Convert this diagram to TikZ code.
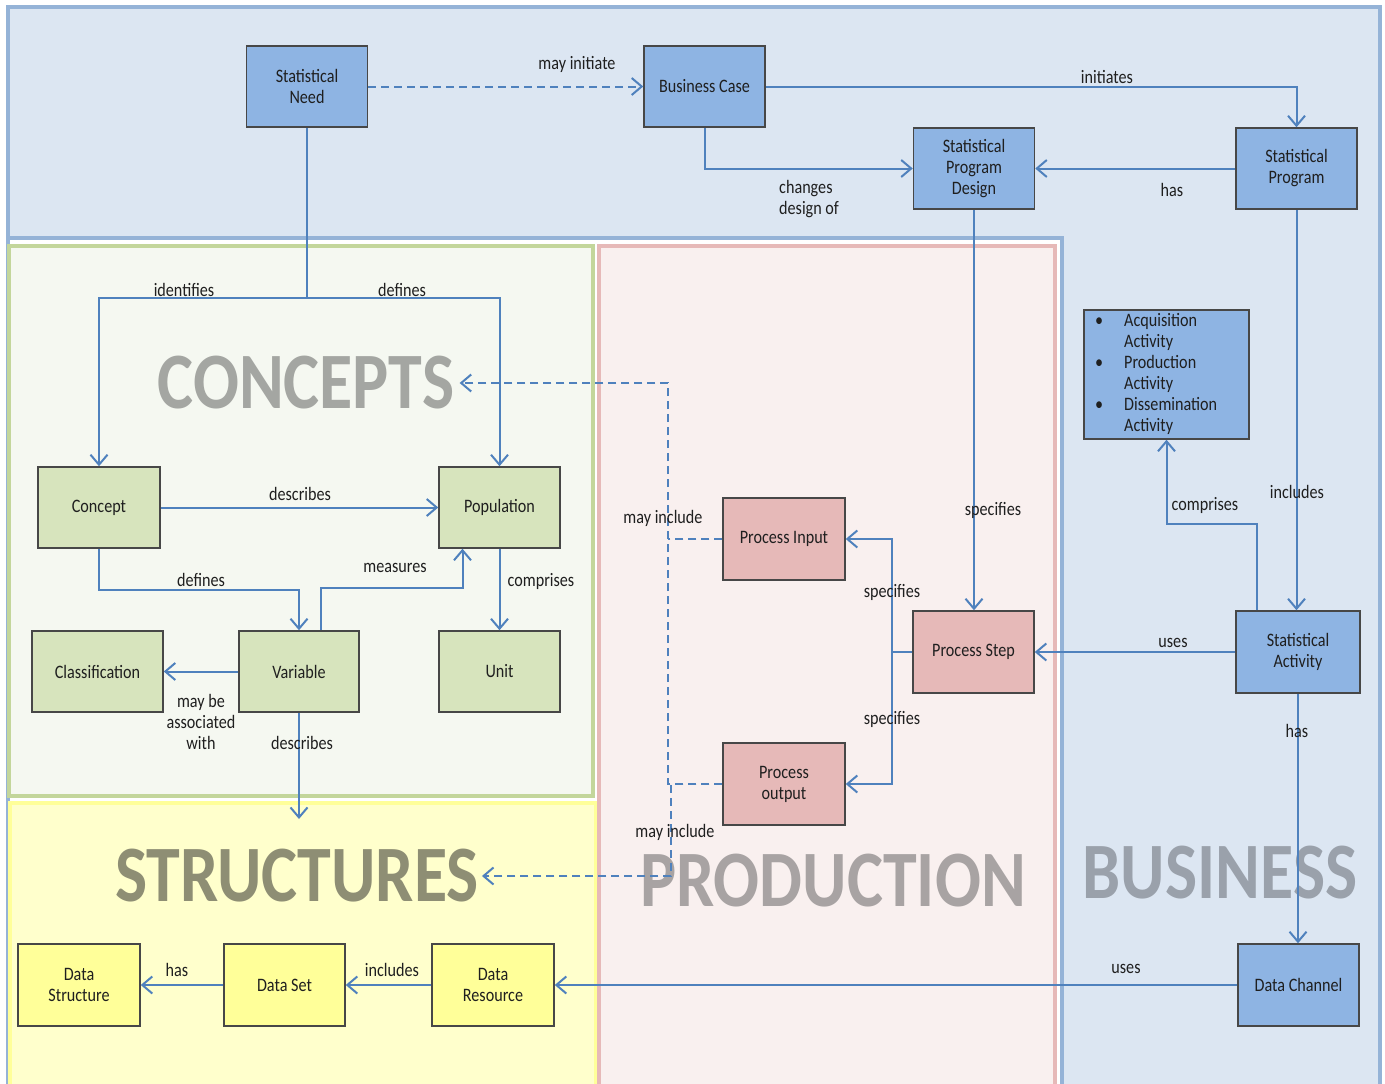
\documentclass[tikz,border=0pt]{standalone}
\usepackage{fontspec}
\setmainfont{Carlito}[FakeStretch=0.85]
\usetikzlibrary{arrows.meta}
\definecolor{bizfill}{HTML}{DCE6F2}
\definecolor{bizline}{HTML}{95B3D7}
\definecolor{confill}{HTML}{F5F8F1}
\definecolor{conline}{HTML}{C3D69B}
\definecolor{profill}{HTML}{F9F0EF}
\definecolor{proline}{HTML}{E6B9B8}
\definecolor{strfill}{HTML}{FFFFCC}
\definecolor{strline}{HTML}{FFFF99}
\definecolor{bnode}{HTML}{8EB4E3}
\definecolor{gnode}{HTML}{D7E4BD}
\definecolor{pnode}{HTML}{E6B9B8}
\definecolor{ynode}{HTML}{FFFF99}
\definecolor{connc}{HTML}{4F81BD}
\definecolor{txt}{HTML}{1F1F1F}
\definecolor{wconc}{HTML}{A4A6A2}
\definecolor{wstruc}{HTML}{8E8E74}
\definecolor{wprod}{HTML}{A8A3A3}
\definecolor{wbiz}{HTML}{9AA1AB}
\begin{document}
\begin{tikzpicture}[x=1pt,y=-1pt,
  nodebox/.style={draw=black!72, line width=1.5pt, minimum width=121pt, minimum height=81pt,
    inner sep=1pt, align=center, text=txt, font=\fontsize{19}{21}\selectfont},
  bbox/.style={nodebox, fill=bnode},
  gbox/.style={nodebox, fill=gnode},
  pbox/.style={nodebox, fill=pnode},
  ybox/.style={nodebox, fill=ynode},
  lbl/.style={font=\fontsize{19}{21}\selectfont, inner sep=0pt, align=center, text=txt},
  bigword/.style={font=\fontsize{80}{80}\selectfont\bfseries, inner sep=0pt},
  arrowlink/.style={draw=connc, line width=2pt, -{Straight Barb[length=10pt,width=17pt]}},
  plainlink/.style={draw=connc, line width=2pt},
  dashlink/.style={plainlink, dash pattern=on 8pt off 5pt},
  dasharrow/.style={arrowlink, dash pattern=on 8pt off 5pt},
  region/.style={line width=3.5pt},
]
\useasboundingbox (0,0) rectangle (1385,1084);
\fill[white] (0,0) rectangle (1385,1084);
% regions
\draw[region, fill=bizfill, draw=bizline] (8,7) rectangle (1380,1095);
\draw[region, fill=white, draw=bizline] (8,238) rectangle (1062,1095);
\draw[region, fill=confill, draw=conline] (9,246) rectangle (593,796);
\draw[region, fill=strfill, draw=strline] (10,803) rectangle (596,1095);
\draw[region, fill=profill, draw=proline] (599,246) rectangle (1055,1095);
% big words
\node[bigword, text=wconc] (concepts) at (306,383) {CONCEPTS};
\node[bigword, text=wstruc] (structures) at (297,876) {STRUCTURES};
\node[bigword, text=wprod] (production) at (833,881) {PRODUCTION};
\node[bigword, text=wbiz] (business) at (1220,873) {BUSINESS};
% nodes
\node[bbox] (sneed) at (307,86.5) {Statistical\\Need};
\node[bbox] (bcase) at (704.5,86.5) {Business Case};
\node[bbox] (spd) at (974,168.5) {Statistical\\Program\\Design};
\node[bbox] (sprog) at (1296.5,168.5) {Statistical\\Program};
\node[bbox, minimum width=165pt, minimum height=129pt] (acts) at (1166.5,374.5) {};
\node[lbl, anchor=north west, align=left] (actstext) at (1095,312)
  {\begin{tabular}{@{}p{29pt}@{}l@{}}\textbullet & Acquisition\\ & Activity\\ \textbullet & Production\\ & Activity\\ \textbullet & Dissemination\\ & Activity\end{tabular}};
\node[gbox, minimum width=122pt] (concept) at (99,507.5) {Concept};
\node[gbox] (pop) at (499.5,507.5) {Population};
\node[gbox, minimum width=131pt] (class) at (97.5,671.5) {Classification};
\node[gbox, minimum width=120pt] (var) at (299,671.5) {Variable};
\node[gbox] (unit) at (499.5,671.5) {Unit};
\node[pbox, minimum width=122pt, minimum height=82pt] (pin) at (784,539) {Process Input};
\node[pbox, minimum height=82pt] (pstep) at (973.5,652) {Process Step};
\node[pbox, minimum width=122pt, minimum height=82pt] (pout) at (784,784) {Process\\output};
\node[bbox, minimum width=124pt, minimum height=82pt] (sact) at (1298,652) {Statistical\\Activity};
\node[ybox, minimum width=122pt, minimum height=82pt] (dstruct) at (79,985) {Data\\Structure};
\node[ybox, minimum height=82pt] (dset) at (284.5,985) {Data Set};
\node[ybox, minimum width=122pt, minimum height=82pt] (dres) at (493,985) {Data\\Resource};
\node[bbox, minimum height=82pt] (dchan) at (1298.5,985) {Data Channel};
\coordinate (descend) at (299,819);
% connectors
\draw[dasharrow] (sneed.east) -- (bcase.west);
\draw[arrowlink] (bcase.east) -| (sprog.north);
\draw[arrowlink] (bcase.south) |- (spd.west);
\draw[arrowlink] (sprog.west) -- (spd.east);
\draw[arrowlink] (spd.south) -- (spd.south |- pstep.north);
\draw[arrowlink] (sprog.south) -- (sprog.south |- sact.north);
\draw[arrowlink] ([xshift=-41pt]sact.north) -- ++(0,-86) -| (acts.south);
\draw[arrowlink] (sact.west) -- (pstep.east);
\draw[arrowlink] (sact.south) -- (sact.south |- dchan.north);
\draw[arrowlink] (dchan.west) -- (dres.east);
\draw[arrowlink] (dres.west) -- (dset.east);
\draw[arrowlink] (dset.west) -- (dstruct.east);
\draw[arrowlink] (pstep.west) -- ++(-20,0) |- (pin.east);
\draw[arrowlink] (pstep.west) -- ++(-20,0) |- (pout.east);
\draw[dashlink] (pin.west) -- ++(-54,0);
\draw[dasharrow] (pout.west) -- ++(-54,0) |- ([xshift=5pt]concepts.east);
\draw[dasharrow] (pout.west) -- ++(-51,0) |- ([xshift=3pt]structures.east);
\draw[arrowlink] (sneed.south) -- ++(0,170) -| (concept.north);
\draw[arrowlink] (sneed.south) -- ++(0,170) -| (pop.north);
\draw[arrowlink] (concept.east) -- (pop.west);
\draw[arrowlink] (concept.south) -- ++(0,41) -| (var.north);
\draw[arrowlink] ([xshift=22pt]var.north) -- ++(0,-42) -| ([xshift=-37pt]pop.south);
\draw[arrowlink] (pop.south) -- (unit.north);
\draw[arrowlink] (var.west) -- (class.east);
\draw[arrowlink] (var.south) -- (descend);
% labels
\node[lbl] (t1) at (577,64) {may initiate};
\node[lbl] (t2) at (1107,77) {initiates};
\node[lbl, align=left, anchor=west] (t3) at (779,199) {changes\\design of};
\node[lbl] (t4) at (1172,190) {has};
\node[lbl] (t5) at (993,510) {specifies};
\node[lbl] (t6) at (1297,492) {includes};
\node[lbl] (t7) at (1205,505) {comprises};
\node[lbl] (t8) at (1173,643) {uses};
\node[lbl] (t9) at (1297,731) {has};
\node[lbl] (t10) at (1126,969) {uses};
\node[lbl] (t11) at (392,970) {includes};
\node[lbl] (t12) at (177,970) {has};
\node[lbl] (t13) at (892,592) {specifies};
\node[lbl] (t14) at (892,719) {specifies};
\node[lbl] (t15) at (663,518) {may include};
\node[lbl] (t16) at (675,832) {may include};
\node[lbl] (t17) at (184,290) {identifies};
\node[lbl] (t18) at (402,290) {defines};
\node[lbl] (t19) at (300,494) {describes};
\node[lbl] (t20) at (201,580) {defines};
\node[lbl] (t21) at (395,568) {measures};
\node[lbl] (t22) at (541,581) {comprises};
\node[lbl] (t23) at (201,722) {may be\\associated\\with};
\node[lbl] (t24) at (302,743) {describes};
\end{tikzpicture}
\end{document}
